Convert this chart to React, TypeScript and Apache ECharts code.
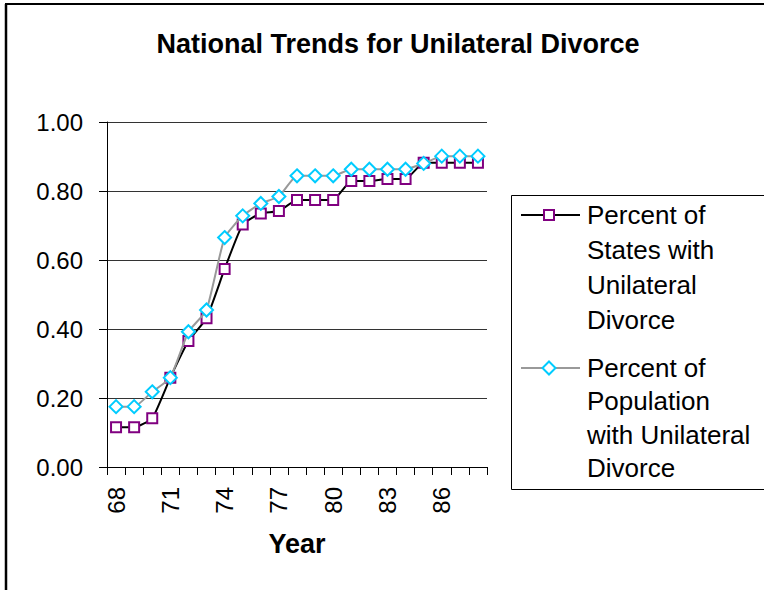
import React, { useEffect, useRef } from "react";
import * as echarts from "echarts";

const years = ["68","69","70","71","72","73","74","75","76","77","78","79","80","81","82","83","84","85","86","87","88"];
const statesShare = [0.115,0.115,0.141,0.259,0.365,0.431,0.574,0.703,0.735,0.742,0.774,0.774,0.774,0.829,0.829,0.835,0.835,0.882,0.882,0.882,0.882];
const populationShare = [0.175,0.175,0.218,0.259,0.392,0.455,0.665,0.728,0.764,0.784,0.844,0.844,0.844,0.863,0.863,0.863,0.863,0.880,0.901,0.901,0.901];
const seriesNames = ["Percent of States with Unilateral Divorce", "Percent of Population with Unilateral Divorce"];
const legendLines = [
  ["Percent of", "States with", "Unilateral", "Divorce"],
  ["Percent of", "Population", "with Unilateral", "Divorce"],
];
const yTicks = [0, 0.2, 0.4, 0.6, 0.8, 1.0];
const titleText = "National Trends for Unilateral Divorce";
const xAxisTitle = "Year";

const FONT = "Liberation Sans, Arial, sans-serif";
const PURPLE = "#800080";
const CYAN = "#00CCFF";
const GRAY = "#999999";

export default function App() {
  const ref = useRef<HTMLDivElement>(null);
  useEffect(() => {
    document.body.style.margin = "0";
    const chart = echarts.init(ref.current!, null, { renderer: "svg" });
    const lx = 521, lx2 = 580, mx = 549, tx = 587;
    const y1 = 215, y2 = 368;
    chart.setOption({
      animation: false,
      backgroundColor: "#fff",
      title: {
        text: titleText,
        left: 393,
        top: 25,
        textAlign: "center",
        textStyle: { fontFamily: FONT, fontSize: 27, fontWeight: "bold", color: "#000" },
      },
      grid: { left: 107, right: 277, top: 122, bottom: 126, containLabel: false, outerBoundsMode: "none" },
      xAxis: {
        type: "category",
        data: years,
        boundaryGap: true,
        name: xAxisTitle,
        nameLocation: "middle",
        nameGap: 63,
        nameTextStyle: { fontFamily: FONT, fontSize: 27, fontWeight: "bold", color: "#000" },
        axisLine: { lineStyle: { color: "#000", width: 1 } },
        axisTick: { show: true, interval: 0, length: 8, lineStyle: { color: "#000" } },
        axisLabel: { interval: 2, rotate: 90, margin: 20, fontFamily: FONT, fontSize: 24, color: "#000" },
        splitLine: { show: false },
      },
      yAxis: {
        type: "value",
        min: yTicks[0],
        max: yTicks[yTicks.length - 1],
        interval: 0.2,
        axisLine: { show: true, lineStyle: { color: "#000", width: 1 } },
        axisTick: { show: true, length: 8, lineStyle: { color: "#000" } },
        axisLabel: { margin: 24, fontFamily: FONT, fontSize: 24, color: "#000", formatter: (v: number) => v.toFixed(2) },
        splitLine: { show: true, lineStyle: { color: "#333", width: 1 } },
      },
      series: [
        {
          name: seriesNames[0],
          type: "line",
          data: statesShare,
          smooth: 0.15,
          showAllSymbol: true,
          symbol: "rect",
          symbolSize: 10,
          lineStyle: { color: "#000", width: 2 },
          itemStyle: { color: "#fff", borderColor: PURPLE, borderWidth: 2 },
          z: 3,
        },
        {
          name: seriesNames[1],
          type: "line",
          data: populationShare,
          smooth: 0.15,
          showAllSymbol: true,
          symbol: "diamond",
          symbolSize: 13,
          lineStyle: { color: GRAY, width: 2 },
          itemStyle: { color: "#fff", borderColor: CYAN, borderWidth: 2 },
          z: 4,
        },
      ],
      graphic: [
        { type: "line", shape: { x1: 6, y1: 4, x2: 6, y2: 590 }, style: { stroke: "#000", lineWidth: 2.5 } },
        { type: "line", shape: { x1: 5, y1: 4, x2: 764, y2: 4 }, style: { stroke: "#000", lineWidth: 2 } },
        { type: "rect", shape: { x: 511.5, y: 195.5, width: 300, height: 294 }, style: { stroke: "#000", lineWidth: 1, fill: "#fff" } },
        { type: "line", shape: { x1: lx, y1: y1, x2: lx2, y2: y1 }, style: { stroke: "#000", lineWidth: 2 } },
        { type: "rect", shape: { x: mx - 5, y: y1 - 5, width: 10, height: 10 }, style: { stroke: PURPLE, lineWidth: 2, fill: "#fff" } },
        {
          type: "text", x: tx, y: y1 - 17.5,
          style: { text: legendLines[0].join("\n"), font: `26px ${FONT}`, fill: "#000", lineHeight: 35, verticalAlign: "top", textVerticalAlign: "top", align: "left", textAlign: "left" },
        },
        { type: "line", shape: { x1: lx, y1: y2, x2: lx2, y2: y2 }, style: { stroke: GRAY, lineWidth: 2 } },
        { type: "polygon", shape: { points: [[mx, y2 - 6.5], [mx + 6.5, y2], [mx, y2 + 6.5], [mx - 6.5, y2]] }, style: { stroke: CYAN, lineWidth: 2, fill: "#fff" } },
        {
          type: "text", x: tx, y: y2 - 17,
          style: { text: legendLines[1].join("\n"), font: `26px ${FONT}`, fill: "#000", lineHeight: 33.5, verticalAlign: "top", textVerticalAlign: "top", align: "left", textAlign: "left" },
        },
      ],
    });
    return () => chart.dispose();
  }, []);
  return <div ref={ref} style={{ position: "fixed", left: 0, top: 0, width: 764, height: 593 }} />;
}
